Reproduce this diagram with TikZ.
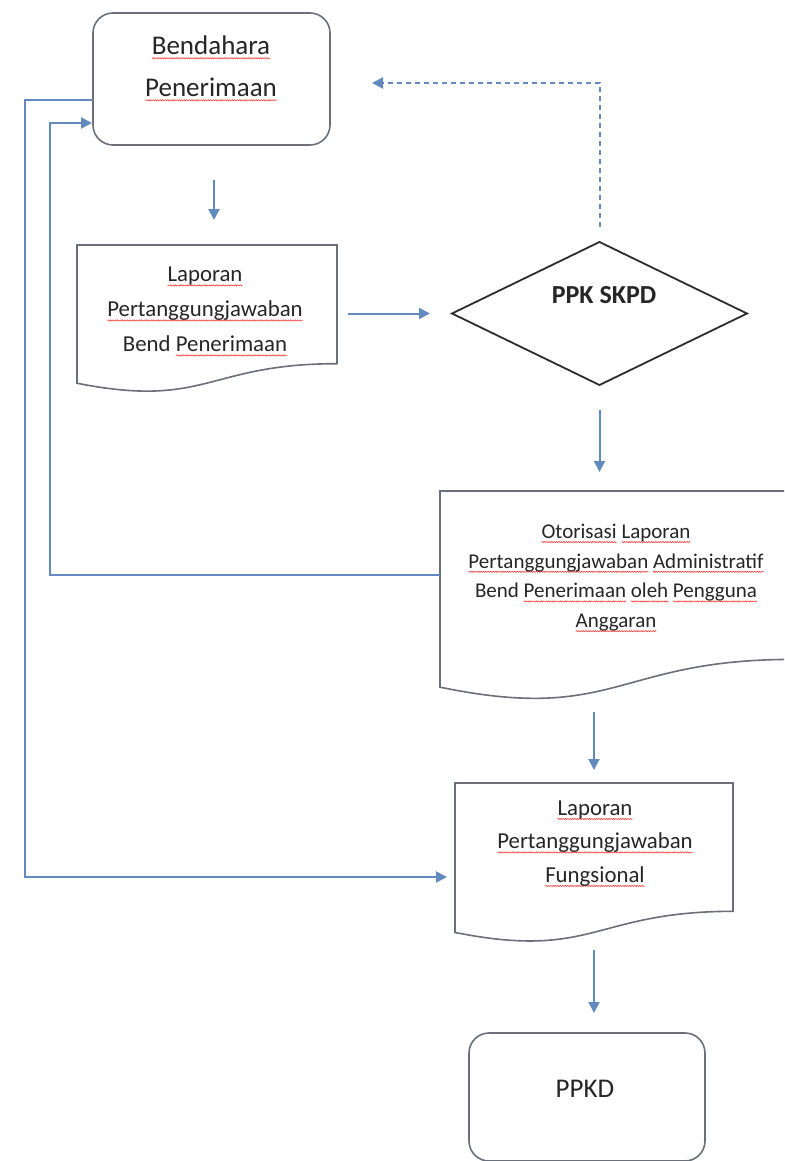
\documentclass[tikz,border=0pt]{standalone}
\usepackage{fontspec}
\setmainfont{Carlito}
\usetikzlibrary{arrows.meta,decorations.pathmorphing,calc}

\definecolor{linkblue}{RGB}{98,138,190}
\definecolor{boxgray}{RGB}{105,112,122}
\definecolor{diagray}{RGB}{45,45,45}

% red wavy underline under a word
\tikzset{spell/.style={draw=red!75, line width=0.6pt, decorate,
  decoration={snake, amplitude=0.6pt, segment length=2.4pt}}}
\newsavebox\sqbox
\newdimen\sqwd
\newcommand\sq[1]{\sbox\sqbox{#1}\sqwd=\wd\sqbox
  \tikz[baseline=0pt,overlay]\draw[spell] (0pt,-3.5pt) -- (\sqwd,-3.5pt);\usebox\sqbox}

% outline of a flowchart document shape drawn on a node's bounding box
\newcommand\docoutline[1]{%
  \draw[docline] (#1.north west) -- (#1.north east)
    -- ($(#1.north east)!0.802!(#1.south east)$)
    .. controls ($(#1.north)!0.802!(#1.south)$) and ($(#1.north)!1.1075!(#1.south)$)
    .. ($(#1.north west)!0.934!(#1.south west)$) -- cycle;}

\begin{document}
\begin{tikzpicture}[x=1pt,y=-1pt,
  rbox/.style={draw=boxgray, line width=1.6pt, rounded corners=20pt,
    inner sep=0pt, outer sep=0pt},
  area/.style={draw=none, inner sep=0pt, outer sep=0pt},
  docline/.style={draw=boxgray, line width=1.6pt},
  txt/.style={inner sep=0pt, outer sep=0pt, align=center, text=black!85},
  conn/.style={draw=linkblue, line width=2pt, -{Triangle[length=11pt,width=11pt]}},
  dashconn/.style={conn, dash pattern=on 5pt off 4pt}]

\useasboundingbox (0,0) rectangle (784,1161);
\fill[white] (0,0) rectangle (784,1161);
\clip (0,0) rectangle (784,1161);

% shapes
\node[rbox, minimum width=237pt, minimum height=132pt] (bend) at (211.5,79) {};
\node[area, minimum width=260pt, minimum height=148pt] (doc1) at (207,319) {};
\node[area, minimum width=295pt, minimum height=143pt] (dia) at (599.5,313.5) {};
\node[area, minimum width=352pt, minimum height=210pt] (doc2) at (616,596) {};
\node[area, minimum width=278pt, minimum height=160pt] (doc3) at (594,863) {};
\node[rbox, minimum width=236pt, minimum height=128pt] (ppkd) at (587,1097) {};

\docoutline{doc1}
\docoutline{doc2}
\docoutline{doc3}
\draw[draw=diagray, line width=1.8pt] (dia.west) -- (dia.north) -- (dia.east) -- (dia.south) -- cycle;

% texts
\node[txt, font=\fontsize{27}{42}\selectfont] (bendlbl) at (211,66.5)
  {\sq{Bendahara}\\\sq{Penerimaan}};
\node[txt, font=\fontsize{22.8}{35}\selectfont] (doc1lbl) at (205,309.7)
  {\sq{Laporan}\\\sq{Pertanggungjawaban}\\Bend \sq{Penerimaan}};
\node[txt, font=\bfseries\fontsize{26}{30}\selectfont, anchor=base] (dialbl) at (604,303)
  {PPK SKPD};
\node[txt, font=\fontsize{21}{29.7}\selectfont] (doc2lbl) at (616,577.7)
  {\sq{Otorisasi} \sq{Laporan}\\\sq{Pertanggungjawaban} \sq{Administratif}\\
   Bend \sq{Penerimaan} \sq{oleh} \sq{Pengguna}\\\sq{Anggaran}};
\node[txt, font=\fontsize{22.8}{33.5}\selectfont] (doc3lbl) at (595,843.6)
  {\sq{Laporan}\\\sq{Pertanggungjawaban}\\\sq{Fungsional}};
\node[txt, font=\fontsize{27}{30}\selectfont, anchor=base] (ppkdlbl) at (585,1097) {PPKD};

% connectors
\coordinate (loopin) at (50,0);
\coordinate (loopout) at (25,0);

\draw[conn, shorten <=35pt, shorten >=25pt] ([xshift=2.5pt]bend.south) -- ([xshift=7pt]doc1.north);
\draw[conn, shorten <=11pt, shorten >=22pt] (doc1.east |- dia.west) -- (dia.west);
\draw[conn, shorten <=25pt, shorten >=19pt] (dia.south) -- (dia.south |- doc2.north);
\draw[conn, shorten <=11pt, shorten >=13pt] (doc3.north |- doc2.south) -- (doc3.north);
\draw[conn, shorten <=7pt, shorten >=20pt] (doc3.south) -- (doc3.south |- ppkd.north);
\draw[dashconn, shorten <=15pt, shorten >=42pt] (dia.north) |- ([yshift=-4pt]bend.east);

% return from the authorisation report back to the treasurer
\draw[conn, shorten >=1pt] ([yshift=21pt]doc2.west) -- ([yshift=21pt]doc2.west -| loopin)
  |- ([yshift=-44pt]bend.west);
% treasurer to the functional report
\draw[conn, shorten >=8pt] ([yshift=-21pt]bend.west) -- ([yshift=-21pt]bend.west -| loopout)
  |- ([yshift=-14pt]doc3.west);
\end{tikzpicture}
\end{document}
